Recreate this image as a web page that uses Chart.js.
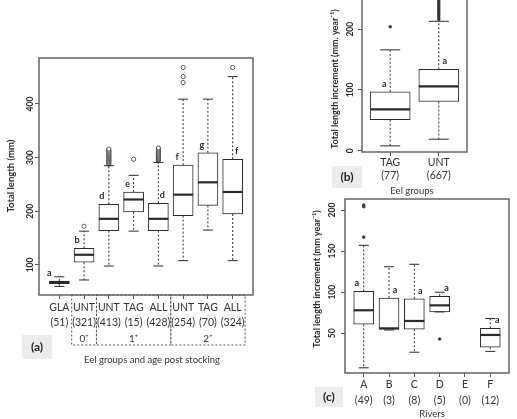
<!DOCTYPE html>
<html>
<head>
<meta charset="utf-8">
<script src="https://cdn.jsdelivr.net/npm/chart.js@4/dist/chart.umd.min.js"></script>
<style>
  html, body { margin: 0; padding: 0; background: #fff; width: 517px; height: 419px; overflow: hidden; position: relative; }
  canvas { position: absolute; }
</style>
</head>
<body>
<canvas id="chartA" width="270" height="330" style="left:0px;top:40px"></canvas>
<canvas id="chartB" width="227" height="240" style="left:290px;top:-40px"></canvas>
<canvas id="chartC" width="227" height="234" style="left:290px;top:185px"></canvas>
<script>
// panel (a): total length by eel group
const aCats = ['GLA', 'UNT', 'UNT', 'TAG', 'ALL', 'UNT', 'TAG', 'ALL'];
const aCounts = ['(51)', '(321)', '(413)', '(15)', '(428)', '(254)', '(70)', '(324)'];
const aLow = [60, 72, 98, 163, 98, 108, 165, 108];
const aQ1 = [65, 105, 164, 199, 164, 192, 211, 195];
const aMed = [68, 119, 186, 222, 186, 231, 254, 236];
const aQ3 = [70, 131, 213, 236, 215, 286, 309, 297];
const aHigh = [78, 163, 285, 267, 291, 409, 409, 451];
const aLetters = ['a', 'b', 'd', 'e', 'd', 'f', 'g', 'f'];
const aOutliers = [
  [],
  [172],
  [288, 290, 292, 294, 296, 298, 300, 302, 304, 306, 308, 310, 312, 314, 316],
  [297],
  [294, 296, 298, 300, 302, 304, 306, 308, 310, 312, 314, 316, 318],
  [440, 451, 468],
  [],
  [468]
];
const aYTicks = [100, 200, 300, 400];
const aGroupNames = ['0⁺', '1⁺', '2⁺'];
const aGroupFirst = [2, 3, 6];
const aGroupLast = [2, 5, 8];

// panel (b): increment by eel group
const bCats = ['TAG', 'UNT'];
const bCounts = ['(77)', '(667)'];
const bLow = [8, 19];
const bQ1 = [51, 81];
const bMed = [68, 106];
const bQ3 = [97, 134];
const bHigh = [166, 213];
const bLetters = ['a', 'a'];
const bOutliers = [
  [204],
  [216, 219, 222, 225, 228, 231, 234, 237, 240, 243, 246, 249, 252, 256, 262, 270]
];
const bYTicks = [0, 100, 200];

// panel (c): increment by river
const cCats = ['A', 'B', 'C', 'D', 'E', 'F'];
const cCounts = ['(49)', '(3)', '(8)', '(5)', '(0)', '(12)'];
const cLow = [8, 54, 27, 76, null, 28];
const cQ1 = [61, 55, 55, 76, null, 33];
const cMed = [78, 56, 65, 84, null, 48];
const cQ3 = [101, 93, 92, 95, null, 56];
const cHigh = [157, 131, 134, 100, null, 68];
const cLetters = ['a', 'a', 'a', 'a', '', 'a'];
const cOutliers = [[167, 204, 206], [], [], [43], [], []];
const cYTicks = [50, 100, 150, 200];

const INK = '#2a2a2a';

// whiskers, medians, letters, frame and panel texts, all placed through the chart's scales
function makeExtras(d, o) {
  return {
    id: 'boxExtras',
    afterDraw(chart) {
      const { ctx, chartArea: a } = chart;
      const x = chart.scales.x, y = chart.scales.y;
      const px = v => v - o.ox, py = v => v - o.oy;
      ctx.save();
      d.cats.forEach((c, i) => {
        if (d.q1[i] == null) return;
        const cx = x.getPixelForValue(i + 1);
        const hw = o.boxW / 2;
        const yHi = y.getPixelForValue(d.hi[i]), yLo = y.getPixelForValue(d.lo[i]);
        const yQ1 = y.getPixelForValue(d.q1[i]), yQ3 = y.getPixelForValue(d.q3[i]);
        ctx.strokeStyle = INK;
        ctx.lineWidth = 1;
        ctx.setLineDash([2, 2]);
        ctx.beginPath();
        ctx.moveTo(cx, yQ3); ctx.lineTo(cx, yHi);
        ctx.moveTo(cx, yQ1); ctx.lineTo(cx, yLo);
        ctx.stroke();
        ctx.setLineDash([]);
        ctx.beginPath();
        ctx.moveTo(cx - hw / 2, yHi); ctx.lineTo(cx + hw / 2, yHi);
        ctx.moveTo(cx - hw / 2, yLo); ctx.lineTo(cx + hw / 2, yLo);
        ctx.stroke();
        ctx.lineWidth = 2.2;
        ctx.beginPath();
        const yM = y.getPixelForValue(d.med[i]);
        ctx.moveTo(cx - hw, yM); ctx.lineTo(cx + hw, yM);
        ctx.stroke();
        if (d.letters[i]) {
          ctx.fillStyle = INK;
          ctx.font = 'bold 9px Lato';
          ctx.textAlign = 'center';
          ctx.textBaseline = 'middle';
          ctx.fillText(d.letters[i], cx + o.letterDx[i], yQ3 - 8);
        }
      });
      // plot frame
      ctx.strokeStyle = '#5a5a5a';
      ctx.lineWidth = 1.4;
      ctx.strokeRect(a.left, a.top, a.right - a.left, a.bottom - a.top);
      // rotated y tick labels
      ctx.fillStyle = INK;
      ctx.font = 'bold 8.5px Lato';
      ctx.textAlign = 'center';
      ctx.textBaseline = 'middle';
      y.ticks.forEach(t => {
        ctx.save();
        ctx.translate(px(o.yTickX), y.getPixelForValue(t.value));
        ctx.rotate(-Math.PI / 2);
        ctx.fillText(String(t.value), 0, 0);
        ctx.restore();
      });
      // y title
      ctx.save();
      ctx.translate(px(o.yTitle.x), py(o.yTitle.y));
      ctx.rotate(-Math.PI / 2);
      ctx.font = 'bold ' + o.yTitle.size + 'px Lato';
      ctx.fillText(o.yTitle.text, 0, 0);
      ctx.restore();
      // x title
      ctx.font = '9.5px Lato';
      ctx.fillStyle = '#333';
      ctx.fillText(o.xTitle.text, px(o.xTitle.x), py(o.xTitle.y));
      // panel tag
      const t = o.tag;
      ctx.fillStyle = '#ececec';
      ctx.fillRect(px(t.x), py(t.y), t.w, t.h);
      ctx.fillStyle = '#222';
      ctx.font = 'bold 12px Lato';
      ctx.fillText(t.text, px(t.x + t.w / 2), py(t.y + t.h / 2));
      // group brackets (panel a)
      if (o.groups) {
        const g = o.groups;
        ctx.strokeStyle = '#555';
        ctx.lineWidth = 1;
        ctx.setLineDash([2, 2]);
        const yb = py(g.bottom);
        g.names.forEach((name, k) => {
          const x0 = x.getPixelForValue(g.first[k] - 0.5);
          const x1 = x.getPixelForValue(g.last[k] + 0.5);
          ctx.strokeRect(x0, a.bottom, x1 - x0, yb - a.bottom);
          ctx.fillStyle = '#333';
          ctx.font = '10px Lato';
          ctx.fillText(name, (x0 + x1) / 2, py(g.labelY));
        });
        ctx.setLineDash([]);
      }
      ctx.restore();
    }
  };
}

function boxChart(id, d, o) {
  const n = d.cats.length;
  const xs = d.cats.map((c, i) => i + 1);
  const boxes = [];
  d.cats.forEach((c, i) => {
    if (d.q1[i] != null) boxes.push({ x: i + 1, y: [d.q1[i], d.q3[i]] });
  });
  const outs = [];
  d.out.forEach((arr, i) => arr.forEach(v => outs.push({ x: i + 1, y: v })));
  return new Chart(document.getElementById(id), {
    type: 'bar',
    data: {
      datasets: [
        {
          type: 'bar', data: boxes, backgroundColor: '#fff', borderColor: INK,
          borderWidth: 1, borderSkipped: false, barThickness: o.boxW
        },
        {
          type: 'scatter', data: outs, pointRadius: o.outR,
          pointBackgroundColor: o.outFill, pointBorderColor: '#333', pointBorderWidth: 0.8
        }
      ]
    },
    plugins: [makeExtras(d, o)],
    options: {
      responsive: false,
      animation: false,
      events: [],
      layout: { padding: { left: 0, top: o.top, right: o.right, bottom: 0 } },
      plugins: {
        legend: { display: false },
        tooltip: { enabled: false }
      },
      scales: {
        x: {
          type: 'linear',
          min: 0.5 - 0.04 * n,
          max: n + 0.5 + 0.04 * n,
          offset: false,
          grid: { offset: false, drawOnChartArea: false, tickLength: 4, color: '#555' },
          border: { display: false },
          afterBuildTicks: s => { s.ticks = xs.map(v => ({ value: v })); },
          afterFit: s => { s.height = o.xH; },
          ticks: {
            autoSkip: false, maxRotation: 0, minRotation: 0, padding: o.xPad, color: '#333',
            font: { family: 'Lato', size: o.xFont, lineHeight: o.xLine },
            callback: (v, i) => [d.cats[i], d.counts[i]]
          }
        },
        y: {
          type: 'linear',
          min: o.ymin,
          max: o.ymax,
          grid: { drawOnChartArea: false, tickLength: 4, color: '#555' },
          border: { display: false },
          afterBuildTicks: s => { s.ticks = d.yTicks.map(v => ({ value: v })); },
          afterFit: s => { s.width = o.left; },
          ticks: { display: false }
        }
      }
    }
  });
}

boxChart('chartA',
  { cats: aCats, counts: aCounts, lo: aLow, q1: aQ1, med: aMed, q3: aQ3, hi: aHigh,
    letters: aLetters, out: aOutliers, yTicks: aYTicks },
  { ox: 0, oy: 40, top: 18, right: 17, left: 39, xH: 75, xPad: 1, xLine: '15px', xFont: 10.5,
    ymin: 44, ymax: 485.7, boxW: 20, outR: 2.1, outFill: '#fff',
    letterDx: [-10, -7, -7, -6, 4, -6, -6, 4],
    yTickX: 30, yTitle: { text: 'Total length (mm)', x: 11, y: 176, size: 9.5 },
    xTitle: { text: 'Eel groups and age post stocking', x: 152, y: 360 },
    tag: { text: '(a)', x: 22, y: 335, w: 30, h: 24 },
    groups: { names: aGroupNames, first: aGroupFirst, last: aGroupLast, bottom: 345, labelY: 339 } });

boxChart('chartB',
  { cats: bCats, counts: bCounts, lo: bLow, q1: bQ1, med: bMed, q3: bQ3, hi: bHigh,
    letters: bLetters, out: bOutliers, yTicks: bYTicks },
  { ox: 290, oy: -40, top: 20, right: 50, left: 72, xH: 48, xPad: 0, xLine: '13px', xFont: 10.5,
    ymin: -2.1, ymax: 281, boxW: 40, outR: 1.3, outFill: '#333',
    letterDx: [-6, 6],
    yTickX: 350, yTitle: { text: 'Total length increment (mm. year⁻¹)', x: 335, y: 79, size: 9 },
    xTitle: { text: 'Eel groups', x: 412, y: 191 },
    tag: { text: '(b)', x: 332, y: 166, w: 30, h: 22 } });

boxChart('chartC',
  { cats: cCats, counts: cCounts, lo: cLow, q1: cQ1, med: cMed, q3: cQ3, hi: cHigh,
    letters: cLetters, out: cOutliers, yTicks: cYTicks },
  { ox: 290, oy: 185, top: 14, right: 8, left: 55, xH: 46, xPad: 0, xLine: '16px', xFont: 10.5,
    ymin: 1.7, ymax: 213.4, boxW: 20, outR: 1.3, outFill: '#333',
    letterDx: [-7, 6, 6, 7, 0, 7],
    yTickX: 332, yTitle: { text: 'Total length increment (mm year⁻¹)', x: 317, y: 279, size: 9 },
    xTitle: { text: 'Rivers', x: 432, y: 414 },
    tag: { text: '(c)', x: 315, y: 387, w: 28, h: 20 } });
</script>
</body>
</html>
